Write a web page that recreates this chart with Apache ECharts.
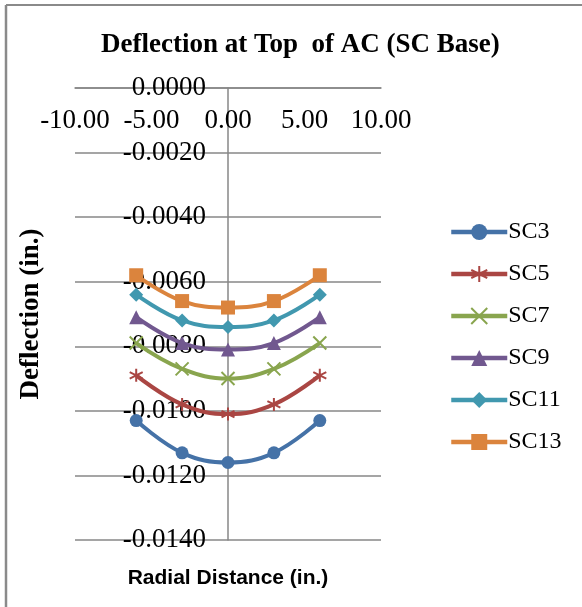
<!DOCTYPE html>
<html><head><meta charset="utf-8">
<script src="https://cdn.jsdelivr.net/npm/echarts@6/dist/echarts.min.js"></script>
<style>html,body{margin:0;padding:0;background:#fff}#c{width:582px;height:607px}</style>
</head><body><div id="c"></div>
<script>
const radialDistance = [-6, -3, 0, 3, 6];
const seriesNames = ['SC3', 'SC5', 'SC7', 'SC9', 'SC11', 'SC13'];
const SC3  = [-0.0103, -0.0113, -0.0116, -0.0113, -0.0103];
const SC5  = [-0.0089, -0.0098, -0.0101, -0.0098, -0.0089];
const SC7  = [-0.0079, -0.0087, -0.0090, -0.0087, -0.0079];
const SC9  = [-0.0071, -0.0079, -0.0081, -0.0079, -0.0071];
const SC11 = [-0.0064, -0.0072, -0.0074, -0.0072, -0.0064];
const SC13 = [-0.0058, -0.0066, -0.0068, -0.0066, -0.0058];
const xTicks = [-10, -5, 0, 5, 10];
const yTicks = [0, -0.002, -0.004, -0.006, -0.008, -0.010, -0.012, -0.014];

const values = [SC3, SC5, SC7, SC9, SC11, SC13];
const colors = ['#4572A7', '#AA4643', '#89A54E', '#71588F', '#4198AF', '#DB843D'];
const symbols = [
  'circle',
  'path://M0,-1 L0,1 M-0.87,-0.5 L0.87,0.5 M-0.87,0.5 L0.87,-0.5',
  'path://M-1,-1 L1,1 M-1,1 L1,-1',
  'triangle',
  'diamond',
  'rect'
];
const sizes = [13, 13, 13, 14, 14, 14];
const serif = 'Liberation Serif';

const gridLeft = 75, gridRight = 201;
const gridWidth = 582 - gridLeft - gridRight;
// y axis crosses at x = 0 (middle of symmetric x range)
const yAxisOffset = -gridWidth * (0 - xTicks[0]) / (xTicks[xTicks.length - 1] - xTicks[0]);

const series = values.map((v, i) => {
  const stroked = i === 1 || i === 2;
  return {
    name: seriesNames[i],
    type: 'line',
    smooth: 0.4,
    data: radialDistance.map((x, j) => [x, v[j]]),
    symbol: symbols[i],
    symbolSize: sizes[i],
    lineStyle: { color: colors[i], width: 4 },
    itemStyle: stroked
      ? { color: colors[i], borderColor: colors[i], borderWidth: 2 }
      : { color: colors[i], borderColor: colors[i], borderWidth: 0 },
    emphasis: { disabled: true },
    animation: false
  };
});

const chart = echarts.init(document.getElementById('c'), null, { renderer: 'canvas' });
chart.setOption({
  animation: false,
  backgroundColor: '#fff',
  title: {
    text: 'Deflection at Top  of AC (SC Base)',
    left: 96, top: 27,
    textStyle: { fontFamily: serif, fontWeight: 'bold', fontSize: 27, color: '#000' }
  },
  grid: { left: gridLeft, right: gridRight, top: 88, bottom: 67, containLabel: false, outerBoundsMode: 'none' },
  xAxis: {
    type: 'value',
    position: 'top',
    min: xTicks[0], max: xTicks[xTicks.length - 1], interval: 5,
    axisLine: { onZero: false, lineStyle: { color: '#878787', width: 1.5 } },
    axisTick: { show: false },
    splitLine: { show: false },
    axisLabel: {
      inside: true,
      margin: 19,
      fontFamily: serif, fontSize: 27, color: '#000',
      formatter: v => v.toFixed(2)
    }
  },
  yAxis: {
    type: 'value',
    position: 'left',
    offset: yAxisOffset,
    min: yTicks[yTicks.length - 1], max: yTicks[0], interval: 0.002,
    axisLine: { show: true, onZero: false, lineStyle: { color: '#878787', width: 1.5 } },
    axisTick: { show: false },
    splitLine: { show: true, lineStyle: { color: '#878787', width: 1.5 } },
    axisLabel: {
      margin: 22,
      padding: [4, 0, 0, 0],
      fontFamily: serif, fontSize: 27, color: '#000',
      formatter: v => v.toFixed(4)
    }
  },
  legend: {
    orient: 'vertical',
    left: 444, top: 215,
    itemWidth: 56, itemHeight: 20, itemGap: 18,
    data: seriesNames,
    lineStyle: { width: 4.5 },
    textStyle: { fontFamily: serif, fontSize: 24, lineHeight: 24, color: '#000', padding: [0, 0, 0, -4] }
  },
  graphic: [
    { type: 'line', shape: { x1: 6, y1: 5, x2: 582, y2: 5 }, style: { stroke: '#8a8a8a', lineWidth: 2 }, silent: true },
    { type: 'line', shape: { x1: 6, y1: 5, x2: 6, y2: 607 }, style: { stroke: '#8a8a8a', lineWidth: 2.5 }, silent: true },
    { type: 'text',
      style: { text: 'Deflection (in.)', font: 'bold 27px "Liberation Serif"', fill: '#000', textAlign: 'center', textVerticalAlign: 'middle' },
      x: 31, y: 314, rotation: Math.PI / 2, silent: true },
    { type: 'text',
      style: { text: 'Radial Distance (in.)', font: 'bold 21px "Liberation Sans"', fill: '#000', textAlign: 'center', textVerticalAlign: 'middle' },
      x: 228, y: 578, silent: true }
  ],
  series: series
});
</script>
</body></html>
